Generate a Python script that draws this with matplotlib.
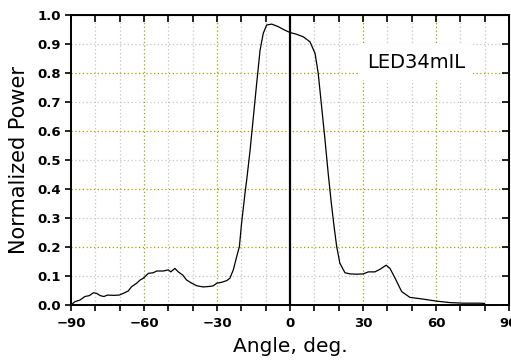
import numpy as np
import matplotlib.pyplot as plt
from matplotlib.ticker import MultipleLocator, FormatStrFormatter

# angular scan of the LED, normalized to peak
angle = [-90, -88.4, -86.3, -84.3, -82.5, -80.8, -79.5, -78, -76.5, -75, -72.6,
         -70.2, -68.5, -66.5, -65.1, -63, -61.6, -60.3, -58.2, -56.2, -54.8,
         -52.1, -50, -49, -47.3, -45.9, -44.1, -42.5, -40.4, -38.3, -35.6,
         -32.9, -31.5, -30.1, -28.1, -26, -24.7, -23.3, -21.9, -20.8, -19.9,
         -18.5, -17.8, -16.4, -13.7, -12.3, -11, -9.6, -7.5, -4.8, -2.1, 0,
         2.7, 5.5, 8.2, 10.3, 11.6, 13, 14.4, 15.7, 17.0, 18.2, 19.2, 20.5,
         22.6, 24.7, 27.4, 30.1, 32.2, 34.9, 37, 39.5, 41.1, 43.2, 45.9, 49.3,
         54.8, 60.3, 65.8, 71.2, 78, 80]
power = [0.0, 0.011, 0.017, 0.029, 0.032, 0.042, 0.040, 0.032, 0.029, 0.034,
         0.033, 0.034, 0.040, 0.048, 0.063, 0.075, 0.086, 0.092, 0.109, 0.111,
         0.117, 0.117, 0.121, 0.114, 0.126, 0.114, 0.103, 0.086, 0.075, 0.066,
         0.062, 0.064, 0.066, 0.075, 0.078, 0.084, 0.092, 0.121, 0.167, 0.201,
         0.282, 0.385, 0.431, 0.534, 0.764, 0.879, 0.937, 0.966, 0.969, 0.960,
         0.948, 0.940, 0.934, 0.925, 0.908, 0.868, 0.799, 0.684, 0.569, 0.454,
         0.350, 0.265, 0.201, 0.144, 0.111, 0.107, 0.106, 0.107, 0.114, 0.114,
         0.123, 0.137, 0.126, 0.092, 0.046, 0.026, 0.020, 0.013, 0.008, 0.006,
         0.006, 0.005]

label = "LED34mIL"
olive = "#a3a300"
grey = "#c4c4c4"

fig = plt.figure(figsize=(5.11, 3.6), dpi=100)
ax = fig.add_axes([0.139, 0.153, 0.857, 0.805])

ax.set_xlim(-90, 90)
ax.set_ylim(0, 1.0)
ax.xaxis.set_major_locator(MultipleLocator(30))
ax.xaxis.set_minor_locator(MultipleLocator(10))
ax.yaxis.set_major_locator(MultipleLocator(0.1))
ax.yaxis.set_major_formatter(FormatStrFormatter("%.1f"))

# grid: grey dotted every 10 deg / 0.1, olive on the major lines
for x in range(-80, 90, 10):
    if x == 0:
        continue
    c = olive if x % 30 == 0 else grey
    ax.axvline(x, color=c, lw=0.9, ls=(0, (1, 2)), zorder=0)
for i in range(1, 10):
    c = olive if i % 2 == 0 else grey
    ax.axhline(i / 10, color=c, lw=0.9, ls=(0, (1, 2)), zorder=0)

ax.axvline(0, color="black", lw=1.6, zorder=2)
ax.plot(angle, power, color="black", lw=0.9, zorder=3)

ax.text(51.8, 0.838, label, fontsize=14, ha="center", va="center",
        bbox=dict(facecolor="white", edgecolor="none", pad=6), zorder=4)

ax.set_xlabel("Angle, deg.", fontsize=14.5, labelpad=5)
ax.set_ylabel("Normalized Power", fontsize=15, labelpad=6)

ax.tick_params(axis="both", which="both", direction="out", labelsize=9.5,
               width=1.2, length=4, top=False, right=False)
ax.tick_params(axis="x", which="major", pad=5)
for t in ax.get_xticklabels() + ax.get_yticklabels():
    t.set_fontweight("bold")
for s in ax.spines.values():
    s.set_linewidth(1.4)

# mirrored inward ticks on top and right
top = ax.secondary_xaxis("top")
top.xaxis.set_major_locator(MultipleLocator(10))
top.tick_params(direction="in", length=5, width=1.2, labeltop=False)
right = ax.secondary_yaxis("right")
right.yaxis.set_major_locator(MultipleLocator(0.1))
right.tick_params(direction="in", length=5, width=1.2, labelright=False)

fig.savefig("out.png", dpi=100)
